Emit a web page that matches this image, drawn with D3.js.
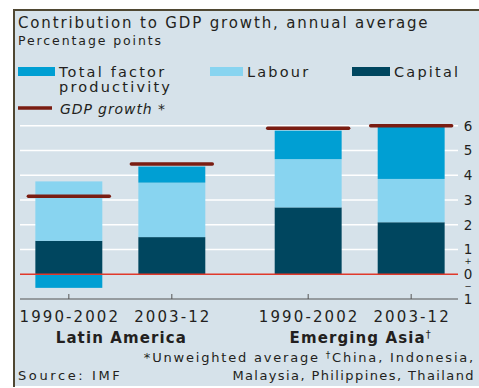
<!DOCTYPE html>
<html>
<head>
<meta charset="UTF-8">
<script src="https://d3js.org/d3.v7.min.js"></script>
<style>
  * { margin: 0; padding: 0; box-sizing: border-box; }
  body { background: #fff; font-family: "DejaVu Sans", sans-serif; }
  svg text { fill: #231f20; }
</style>
</head>
<body>
<div id="chart"></div>
<script>
  // values, percentage points
  const groups = ["Latin America", "Emerging Asia"];
  const groupMark = ["", "†"];
  const periods = ["1990-2002", "2003-12"];
  const barGroup = ["Latin America", "Latin America", "Emerging Asia", "Emerging Asia"];
  const barPeriod = ["1990-2002", "2003-12", "1990-2002", "2003-12"];
  const capital = [1.35, 1.5, 2.7, 2.1];
  const labour = [2.4, 2.2, 1.95, 1.75];
  const tfp = [-0.55, 0.65, 1.15, 2.15];
  const gdp = [3.15, 4.45, 5.9, 6.0];
  const yTicks = [6, 5, 4, 3, 2, 1, 0, -1];

  const colTfp = "#009fd3", colLab = "#88d4f0", colCap = "#00465f";
  const W = 479, H = 388;

  const svg = d3.select("#chart").append("svg")
    .attr("width", W).attr("height", H);

  // panel
  svg.append("rect").attr("x", 13).attr("y", 9).attr("width", W - 13).attr("height", 377)
    .attr("fill", "#d6e2ea");
  svg.append("path").attr("d", `M14,387V10H${W}`).attr("fill", "none")
    .attr("stroke", "#4f4732").attr("stroke-width", 2);

  const y = d3.scaleLinear().domain([-1, 6]).range([299, 125.7]);
  const x0 = d3.scaleBand().domain(groups).range([21, 459]).paddingInner(0.29).paddingOuter(0.06);
  const x1 = d3.scaleBand().domain(periods).range([0, x0.bandwidth()]).paddingInner(0.35);
  const bx = i => x0(barGroup[i]) + x1(barPeriod[i]);

  // gridlines
  svg.append("g").selectAll("line").data(yTicks.filter(d => d > 0)).join("line")
    .attr("x1", 20).attr("x2", 458)
    .attr("y1", d => y(d)).attr("y2", d => y(d))
    .attr("stroke", "#fff").attr("stroke-width", 1.6);

  // stacked bars
  const idx = d3.range(capital.length);
  const segs = [];
  idx.forEach(i => {
    segs.push({ i, y0: 0, y1: capital[i], c: colCap });
    segs.push({ i, y0: capital[i], y1: capital[i] + labour[i], c: colLab });
    const top = capital[i] + labour[i];
    if (tfp[i] >= 0) segs.push({ i, y0: top, y1: top + tfp[i], c: colTfp });
    else segs.push({ i, y0: tfp[i], y1: 0, c: colTfp });
  });
  svg.append("g").selectAll("rect").data(segs).join("rect")
    .attr("x", d => bx(d.i)).attr("width", x1.bandwidth())
    .attr("y", d => y(Math.max(d.y0, d.y1)))
    .attr("height", d => Math.abs(y(d.y0) - y(d.y1)))
    .attr("fill", d => d.c);

  // zero line
  svg.append("line").attr("x1", 20).attr("x2", 458)
    .attr("y1", y(0)).attr("y2", y(0))
    .attr("stroke", "#e0392b").attr("stroke-width", 1.5);

  // GDP growth markers
  svg.append("g").selectAll("line").data(idx).join("line")
    .attr("x1", i => bx(i) - 7).attr("x2", i => bx(i) + x1.bandwidth() + 7)
    .attr("y1", i => y(gdp[i])).attr("y2", i => y(gdp[i]))
    .attr("stroke", "#7a1d12").attr("stroke-width", 3.5).attr("stroke-linecap", "round");

  // bottom axis
  svg.append("line").attr("x1", 20).attr("x2", 458)
    .attr("y1", y(-1)).attr("y2", y(-1))
    .attr("stroke", "#555").attr("stroke-width", 1);
  svg.append("g").selectAll("line").data(idx).join("line")
    .attr("x1", i => bx(i) + x1.bandwidth() / 2).attr("x2", i => bx(i) + x1.bandwidth() / 2)
    .attr("y1", y(-1)).attr("y2", y(-1) - 5)
    .attr("stroke", "#555").attr("stroke-width", 1);

  // right tick labels
  const yl = svg.append("g").attr("font-size", 13.5);
  yl.selectAll("text").data(yTicks).join("text")
    .attr("x", 468).attr("y", d => y(d)).attr("dy", "0.36em")
    .attr("text-anchor", "middle")
    .text(d => Math.abs(d));
  yl.append("text").attr("x", 468).attr("y", y(0.5)).attr("dy", "0.3em")
    .attr("text-anchor", "middle").attr("font-size", 8.5).text("+");
  yl.append("text").attr("x", 468).attr("y", y(-0.5)).attr("dy", "0.3em")
    .attr("text-anchor", "middle").attr("font-size", 8.5).text("−");

  // category labels
  svg.append("g").selectAll("text").data(idx).join("text")
    .attr("x", i => bx(i) + x1.bandwidth() / 2 + 1).attr("y", 322)
    .attr("text-anchor", "middle").attr("font-size", 15).attr("letter-spacing", 2.1)
    .text(i => barPeriod[i]);
  const gl = svg.append("g").selectAll("text").data(groups).join("text")
    .attr("x", g => x0(g) + x0.bandwidth() / 2 + 1).attr("y", 343)
    .attr("text-anchor", "middle").attr("font-size", 15).attr("font-weight", "bold")
    .attr("letter-spacing", 1.1);
  gl.append("tspan").text(g => g);
  gl.append("tspan").attr("font-size", 10).attr("font-weight", "normal").attr("dy", -5)
    .text((g, k) => groupMark[k]);

  // titles
  svg.append("text").attr("x", 18).attr("y", 28).attr("font-size", 15).attr("letter-spacing", 1.85)
    .text("Contribution to GDP growth, annual average");
  svg.append("text").attr("x", 18).attr("y", 45).attr("font-size", 12.5).attr("letter-spacing", 1.9)
    .text("Percentage points");

  // legend
  const leg = [
    { name: ["Total factor", "productivity"], c: colTfp, x: 18, w: 37 },
    { name: ["Labour"], c: colLab, x: 210, w: 33 },
    { name: ["Capital"], c: colCap, x: 352, w: 38 }
  ];
  const lg = svg.append("g").attr("font-size", 14.5).attr("letter-spacing", 2.2);
  leg.forEach(d => {
    lg.append("rect").attr("x", d.x).attr("y", 67).attr("width", d.w).attr("height", 9).attr("fill", d.c);
    d.name.forEach((t, k) => lg.append("text").attr("x", d.x + d.w + 4).attr("y", 77 + k * 15).text(t));
  });
  lg.append("line").attr("x1", 18).attr("x2", 52).attr("y1", 108).attr("y2", 108)
    .attr("stroke", "#7a1d12").attr("stroke-width", 3.5);
  lg.append("text").attr("x", 60).attr("y", 114).attr("font-size", 14).attr("font-style", "italic")
    .attr("letter-spacing", 0.9).text("GDP growth *");

  // footnotes
  const fn = svg.append("g").attr("font-size", 13);
  const f1 = fn.append("text").attr("x", 475).attr("y", 362).attr("text-anchor", "end").attr("letter-spacing", 1.8);
  f1.append("tspan").text("*Unweighted average  ");
  f1.append("tspan").attr("font-size", 9).attr("dy", -4).text("†");
  f1.append("tspan").attr("dy", 4).text("China, Indonesia,");
  fn.append("text").attr("x", 475).attr("y", 380).attr("text-anchor", "end").attr("letter-spacing", 1.4)
    .text("Malaysia, Philippines, Thailand");
  fn.append("text").attr("x", 18).attr("y", 380).attr("letter-spacing", 2.6).text("Source: IMF");
</script>
</body>
</html>
